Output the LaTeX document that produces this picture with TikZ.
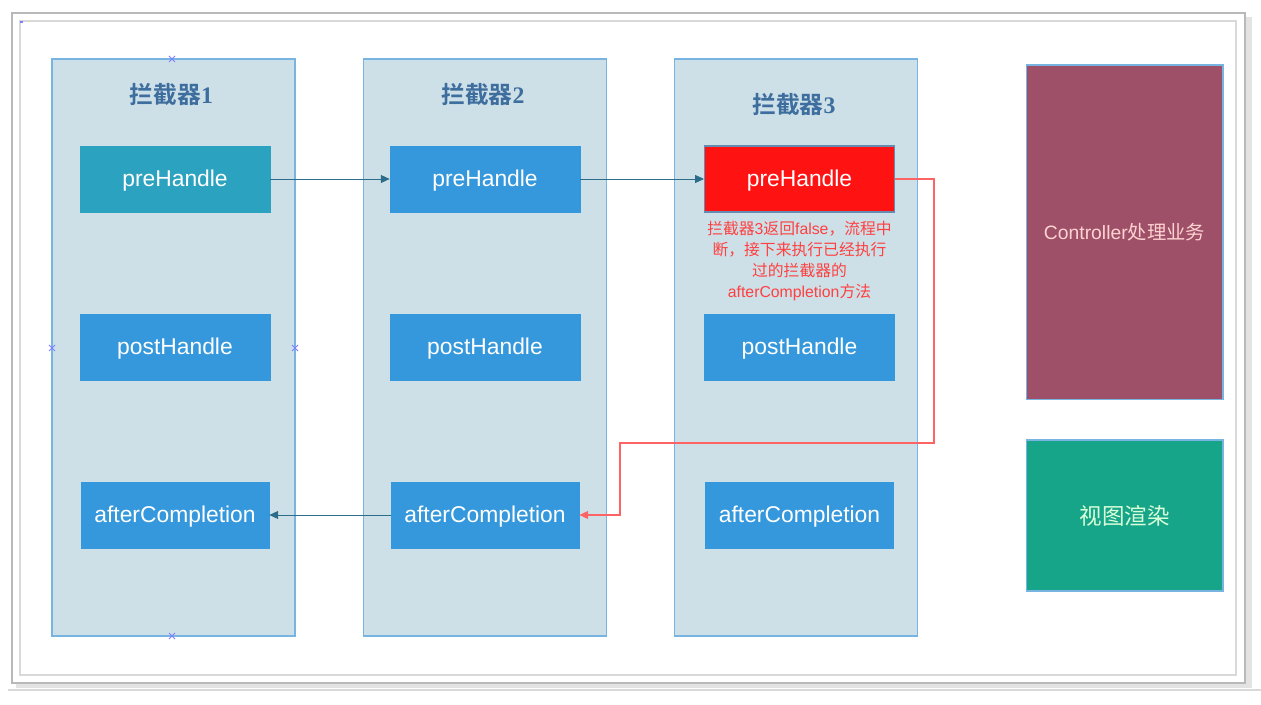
\documentclass[tikz,border=0pt]{standalone}
\usepackage{fontspec}
\setmainfont{Liberation Sans}
\newfontfamily\cjk{Noto Sans CJK SC}
\newfontfamily\cjkbold{Noto Sans CJK SC Bold}
\newfontfamily\serifbold{Liberation Serif Bold}
\usetikzlibrary{arrows.meta}
\definecolor{colfill}{RGB}{205, 224, 232}
\definecolor{colline}{RGB}{120, 180, 226}
\definecolor{stepblue}{RGB}{53, 152, 220}
\definecolor{stepteal}{RGB}{43, 162, 192}
\definecolor{stepred}{RGB}{255, 18, 18}
\definecolor{titleblue}{RGB}{62, 110, 158}
\definecolor{flowline}{RGB}{42, 108, 138}
\definecolor{stopline}{RGB}{255, 100, 100}
\definecolor{stoptext}{RGB}{255, 64, 64}
\definecolor{ctrlfill}{RGB}{158, 80, 104}
\definecolor{viewfill}{RGB}{23, 165, 137}
\definecolor{handle}{RGB}{125, 125, 255}
\newcommand{\zh}[1]{{\cjk #1}}
\tikzset{
  colbox/.style={draw=colline, fill=colfill, line width=0.8pt, minimum width=4.86cm, minimum height=11.54cm},
  stepbox/.style={fill=stepblue, draw=stepblue, text=white, minimum width=3.8cm, minimum height=1.32cm,
                  text height=0.8em, text depth=0pt, font=\fontsize{13}{15}\selectfont},
  coltitle/.style={text=titleblue, font=\fontsize{13.5}{16}\selectfont},
  flow/.style={flowline, line width=0.5pt, -{Triangle[length=5pt, width=4.5pt]}},
  stopflow/.style={stopline, line width=0.7pt, -{Triangle[length=5pt, width=4.5pt]}},
  sidebox/.style={draw=colline, line width=0.6pt, minimum width=3.94cm},
}
\begin{document}
\begin{tikzpicture}[x=0.02cm, y=-0.02cm]

  \useasboundingbox (0, 0) rectangle (1261, 705);

  % frame
  \fill[gray!22] (16, 17) rectangle (1252, 688);
  \draw[gray!30, line width=0.6pt] (8, 690) -- (1261, 690);
  \draw[gray!55, fill=white, line width=0.6pt] (12, 13) rectangle (1245, 683);
  \draw[gray!30, line width=0.8pt] (20, 21) rectangle (1236, 675);

  % interceptor columns
  \foreach \cx/\bx/\ty/\n in {173.5/175/95/1, 485/485/95/2, 796/799.5/105/3} {
    \node[colbox] (col\n) at (\cx, 347.5) {};
    \node[coltitle] (title\n) at (\cx - 2, \ty) {{\cjkbold 拦截器}{\serifbold\n}};
    \node[stepbox] (post\n) at (\bx, 347) {postHandle};
    \node[stepbox, minimum width=3.76cm] (after\n) at (\bx, 515) {afterCompletion};
  }
  \node[stepbox, fill=stepteal, draw=stepteal] (pre1) at (175, 179) {preHandle};
  \node[stepbox] (pre2) at (485, 179) {preHandle};
  \node[stepbox, fill=stepred, draw=titleblue!80, line width=0.6pt] (pre3) at (799.5, 179) {preHandle};

  \node[text=stoptext, align=center, font=\fontsize{9}{11.9}\selectfont] (stopnote) at (799.5, 261)
    {\zh{拦截器}3\zh{返回}false\zh{，流程中}\\
     \zh{断，接下来执行已经执行}\\
     \zh{过的拦截器的}\\
     afterCompletion\zh{方法}};

  % controller and view
  \node[sidebox, fill=ctrlfill, minimum height=6.7cm, text=pink!70!white,
        font=\fontsize{11}{13}\selectfont] (ctrl) at (1124.5, 232.5) {Controller\zh{处理业务}};
  \node[sidebox, fill=viewfill, minimum height=3.02cm, text=green!15!white,
        font=\fontsize{12.8}{15}\cjk] (view) at (1124.5, 515.5) {视图渲染};

  % flows
  \draw[flow] (pre1) -- (pre2);
  \draw[flow] (pre2) -- (pre3);
  \draw[flow] (after2) -- (after1);

  \coordinate (bendA) at (934, 443);
  \coordinate (bendB) at (620, 443);
  \draw[stopflow] (pre3.east) -| (bendA) -- (bendB) |- (after2.east);

  % selection handles
  \foreach \hx/\hy in {172/59, 52/348, 295/348, 172/636} {
    \draw[handle, line width=0.5pt] (\hx - 3, \hy - 3) -- (\hx + 3, \hy + 3)
                                    (\hx - 3, \hy + 3) -- (\hx + 3, \hy - 3);
  }
  \fill[handle] (20, 21) rectangle (23, 23);

\end{tikzpicture}
\end{document}
